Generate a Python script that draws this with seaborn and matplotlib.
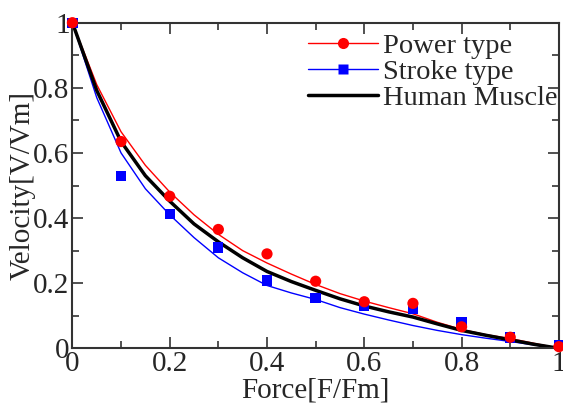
import pandas as pd
import matplotlib.pyplot as plt
import seaborn as sns
from matplotlib.lines import Line2D
from matplotlib.ticker import MultipleLocator, FormatStrFormatter

# fitted curves
curve_x = [0.0, 0.05, 0.1, 0.15, 0.2, 0.25, 0.3, 0.35, 0.4, 0.45, 0.5,
           0.55, 0.6, 0.65, 0.7, 0.75, 0.8, 0.85, 0.9, 0.95, 1.0]
power_curve = [1.0, 0.81, 0.665, 0.562, 0.48, 0.41, 0.35, 0.3, 0.262, 0.228, 0.196,
               0.168, 0.145, 0.125, 0.106, 0.08, 0.058, 0.042, 0.03, 0.015, 0.0]
stroke_curve = [1.0, 0.77, 0.6, 0.49, 0.41, 0.34, 0.278, 0.232, 0.193, 0.17, 0.15,
                0.125, 0.105, 0.087, 0.07, 0.055, 0.042, 0.031, 0.021, 0.01, 0.0]
human_curve = [1.0, 0.792, 0.635, 0.53, 0.452, 0.382, 0.327, 0.278, 0.236, 0.205, 0.178,
               0.152, 0.13, 0.112, 0.096, 0.075, 0.055, 0.04, 0.026, 0.012, 0.0]

# measured points
point_x = [0.0, 0.1, 0.2, 0.3, 0.4, 0.5, 0.6, 0.7, 0.8, 0.9, 1.0]
power_pts = [1.0, 0.635, 0.467, 0.365, 0.29, 0.206, 0.143, 0.138, 0.066, 0.034, 0.005]
stroke_pts = [1.0, 0.53, 0.412, 0.31, 0.208, 0.155, 0.13, 0.12, 0.08, 0.033, 0.01]

sns.set_style('ticks')
plt.rcParams['font.family'] = ['Liberation Serif', 'DejaVu Serif']

fig = plt.figure(figsize=(5.63, 4.12), dpi=100)
ax = fig.add_axes([0.1286, 0.1546, 0.8641, 0.7903])

curves = pd.DataFrame({'x': curve_x, 'power': power_curve,
                       'stroke': stroke_curve, 'human': human_curve})
pts = pd.DataFrame({'x': point_x, 'power': power_pts, 'stroke': stroke_pts})

sns.lineplot(data=curves, x='x', y='stroke', color='#0000ff', lw=1.0, ax=ax)
sns.lineplot(data=curves, x='x', y='power', color='#ff0000', lw=1.0, ax=ax)
sns.lineplot(data=curves, x='x', y='human', color='black', lw=2.5, ax=ax)
sns.scatterplot(data=pts, x='x', y='stroke', marker='s', color='#0000ff', s=55,
                edgecolor='none', ax=ax, clip_on=False, zorder=5)
sns.scatterplot(data=pts, x='x', y='power', marker='o', color='#ff0000', s=65,
                edgecolor='none', ax=ax, clip_on=False, zorder=6)

ax.set_xlim(0, 1)
ax.set_ylim(0, 1)
ax.xaxis.set_major_locator(MultipleLocator(0.2))
ax.xaxis.set_minor_locator(MultipleLocator(0.1))
ax.yaxis.set_major_locator(MultipleLocator(0.2))
ax.yaxis.set_minor_locator(MultipleLocator(0.1))
ax.xaxis.set_major_formatter(FormatStrFormatter('%g'))
ax.yaxis.set_major_formatter(FormatStrFormatter('%g'))
ax.tick_params(which='both', direction='in', top=True, right=True, width=1.2,
               color='#333333', labelsize=21, pad=2)
ax.tick_params(which='major', length=8)
ax.tick_params(which='minor', length=5)
for s in ax.spines.values():
    s.set_linewidth(1.5)
    s.set_color('#333333')

ax.set_xlabel('Force[F/Fm]', fontsize=21, labelpad=0)
ax.set_ylabel('Velocity[V/Vm]', fontsize=21, labelpad=-1.5)

handles = [Line2D([], [], color='#ff0000', lw=1.0, marker='o', ms=8, mec='none'),
           Line2D([], [], color='#0000ff', lw=1.0, marker='s', ms=7, mec='none'),
           Line2D([], [], color='black', lw=2.5)]
ax.legend(handles, ['Power type', 'Stroke type', 'Human Muscle'], loc='upper right',
          bbox_to_anchor=(1.02, 1.003), frameon=False, fontsize=20.5, handlelength=2.45,
          handletextpad=0.18, labelspacing=0.0, borderaxespad=0.0)

fig.savefig('out.png', dpi=100)
